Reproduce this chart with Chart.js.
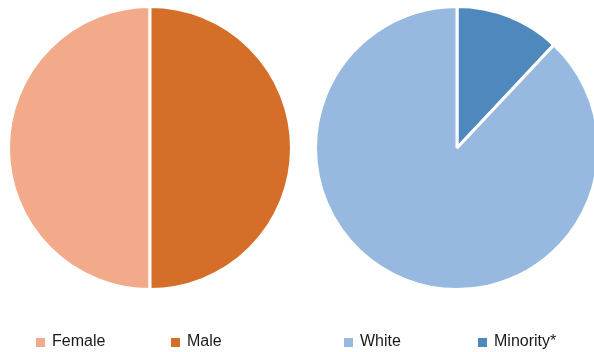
<!DOCTYPE html>
<html>
<head>
<meta charset="utf-8">
<script src="https://cdn.jsdelivr.net/npm/chart.js@4"></script>
<style>
  html, body { margin: 0; padding: 0; background: #fff; overflow: hidden; width: 594px; height: 352px; }
  .pie { position: absolute; top: 5px; }
  #legend { position: absolute; left: 0; top: 0; width: 594px; height: 352px; font-family: "Liberation Sans", Arial, sans-serif; font-size: 16px; color: #1a1a1a; }
  .item { position: absolute; top: 333px; white-space: nowrap; }
  .box { position: absolute; top: 5px; width: 9px; height: 9px; }
  .txt { position: absolute; left: 16px; top: 0; line-height: 16px; }
</style>
</head>
<body>
<canvas id="genderPie" class="pie" style="left:7px" width="286" height="286"></canvas>
<canvas id="racePie" class="pie" style="left:314px" width="286" height="286"></canvas>
<div id="legend"></div>
<script>
// gender split (left pie)
const genderLabels = ["Female", "Male"];
const genderValues = [50, 50];
const genderColors = ["#F2AA8A", "#D46E29"];

// race split (right pie)
const raceLabels = ["Minority*", "White"];
const raceValues = [12, 88];
const raceColors = ["#4F88BD", "#97B9E0"];

// legend order as shown under the charts
const legendLabels = ["Female", "Male", "White", "Minority*"];
const legendColors = ["#F2AA8A", "#D46E29", "#97B9E0", "#4F88BD"];
const legendX = [36, 171, 344, 478];

function renderPie(canvas, labels, values, colors, rotation) {
  return new Chart(canvas.getContext("2d"), {
    type: "pie",
    data: {
      labels,
      datasets: [{
        data: values,
        backgroundColor: colors,
        borderColor: "#ffffff",
        borderWidth: 3,
      }],
    },
    options: {
      responsive: false,
      animation: false,
      rotation,
      layout: { padding: 0 },
      plugins: {
        legend: { display: false },
        tooltip: { enabled: false },
      },
    },
  });
}

renderPie(document.getElementById("genderPie"), genderLabels, genderValues, genderColors, 180);
renderPie(document.getElementById("racePie"), raceLabels, raceValues, raceColors, 0);

const legend = document.getElementById("legend");
legendLabels.forEach((label, i) => {
  const item = document.createElement("div");
  item.className = "item";
  item.style.left = legendX[i] + "px";
  item.innerHTML = '<span class="box" style="background:' + legendColors[i] + '"></span><span class="txt">' + label + "</span>";
  legend.appendChild(item);
});
</script>
</body>
</html>
